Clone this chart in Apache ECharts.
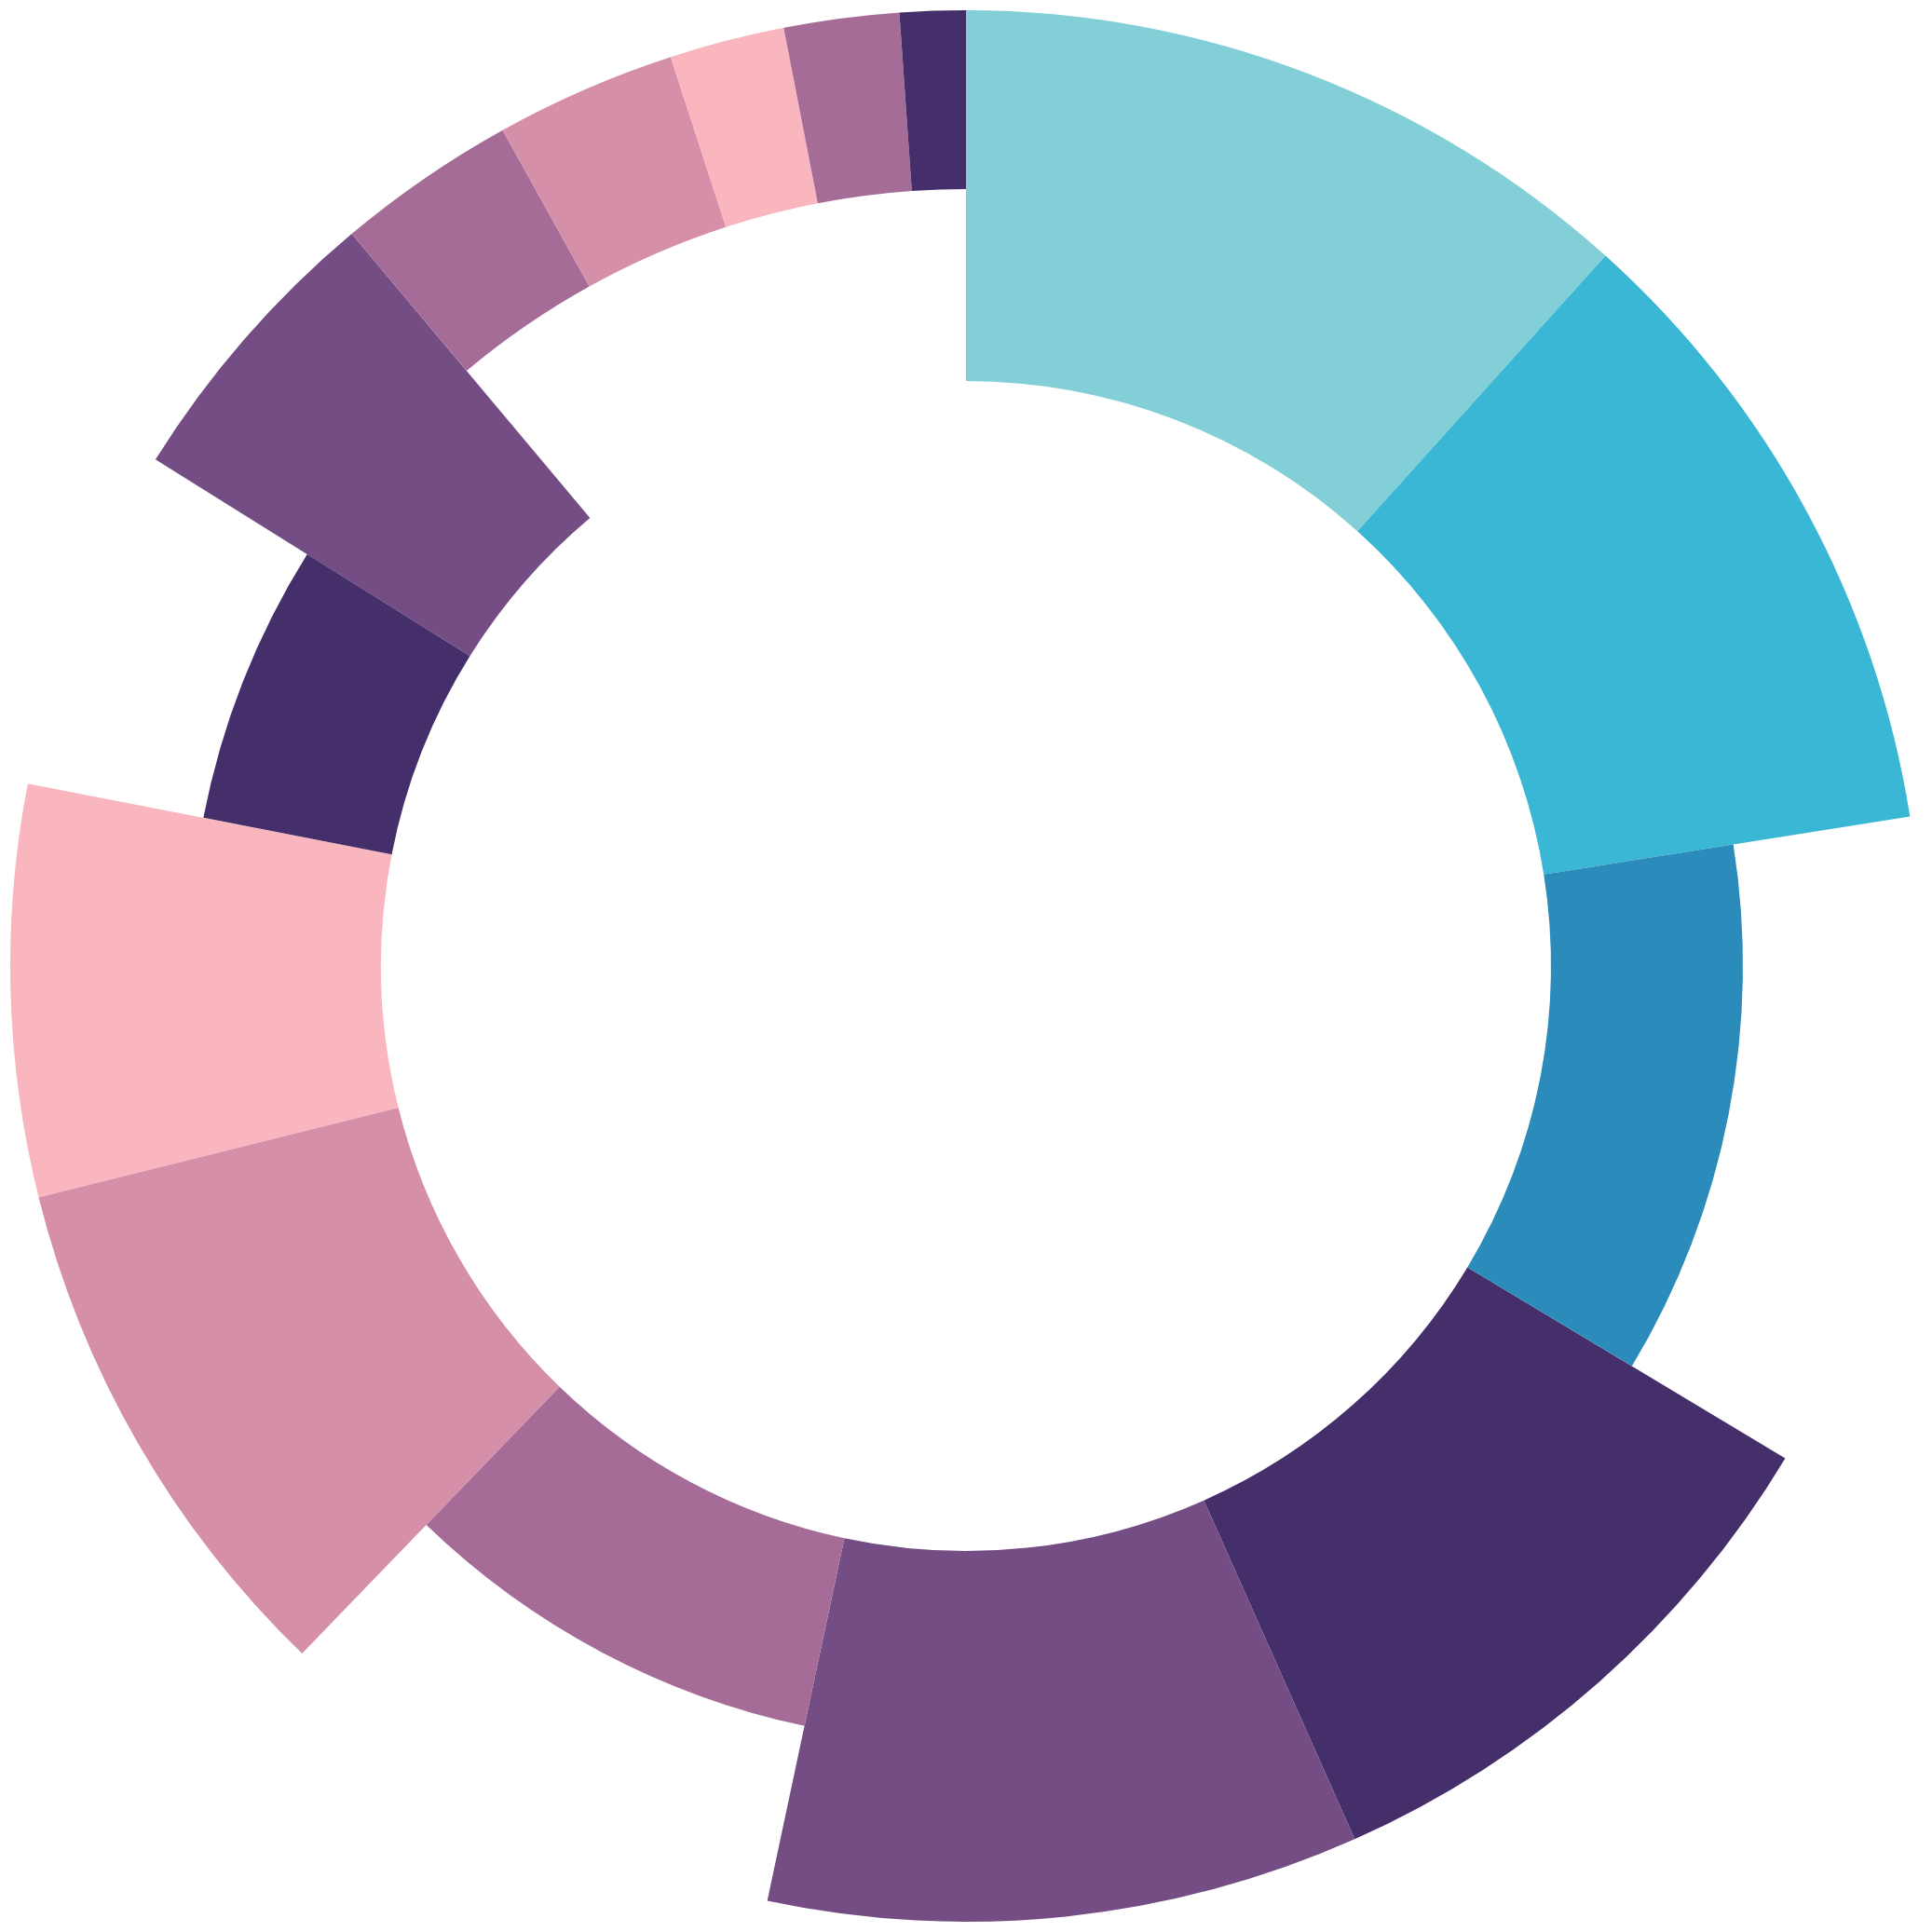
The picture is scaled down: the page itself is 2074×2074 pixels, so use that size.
<!DOCTYPE html>
<html>
<head>
<meta charset="utf-8">
<title>Ring chart</title>
<script src="https://cdn.jsdelivr.net/npm/echarts@6/dist/echarts.min.js"></script>
<style>
  html, body { margin: 0; padding: 0; background: #fff; }
  #chart { width: 2074px; height: 2074px; }
</style>
</head>
<body>
<div id="chart"></div>
<script>
// slice sizes, clockwise from 12 o'clock
const sliceNames = ['A', 'B', 'C', 'D', 'E', 'F', 'G', 'H', 'I', 'J', 'K', 'L', 'M', 'N', 'O'];
const sliceValues = [42, 39, 40, 35, 36, 32, 32, 25, 21, 18, 11, 11, 7, 7, 4];
// which band each slice fills: full ring, inner band only, outer band only
const sliceBands = ['full', 'full', 'inner', 'full', 'full', 'inner', 'full', 'full', 'inner', 'full',
  'outer', 'outer', 'outer', 'outer', 'outer'];

const palette = ['#82cfd8', '#39b7d4', '#2b8bba', '#452f6b', '#734d84', '#a66c98', '#d58fa9', '#f9b6be',
  '#452f6b', '#734d84', '#a66c98', '#d58fa9', '#f9b6be', '#a66c98', '#452f6b'];

const chart = echarts.init(document.getElementById('chart'));

// one pie per band, same angles; slices not in the band are left empty
const makePie = (band, radius) => ({
  type: 'pie',
  radius: radius,
  center: ['50%', '50%'],
  startAngle: 90,
  clockwise: true,
  silent: true,
  label: { show: false },
  labelLine: { show: false },
  emphasis: { disabled: true },
  data: sliceValues.map((v, i) => ({
    name: sliceNames[i],
    value: v,
    itemStyle: {
      color: sliceBands[i] === band ? palette[i] : 'rgba(0,0,0,0)',
      borderWidth: 0
    }
  }))
});

chart.setOption({
  animation: false,
  series: [
    makePie('full', [628, 1026]),
    makePie('inner', [628, 834]),
    makePie('outer', [834, 1026])
  ]
});
</script>
</body>
</html>
